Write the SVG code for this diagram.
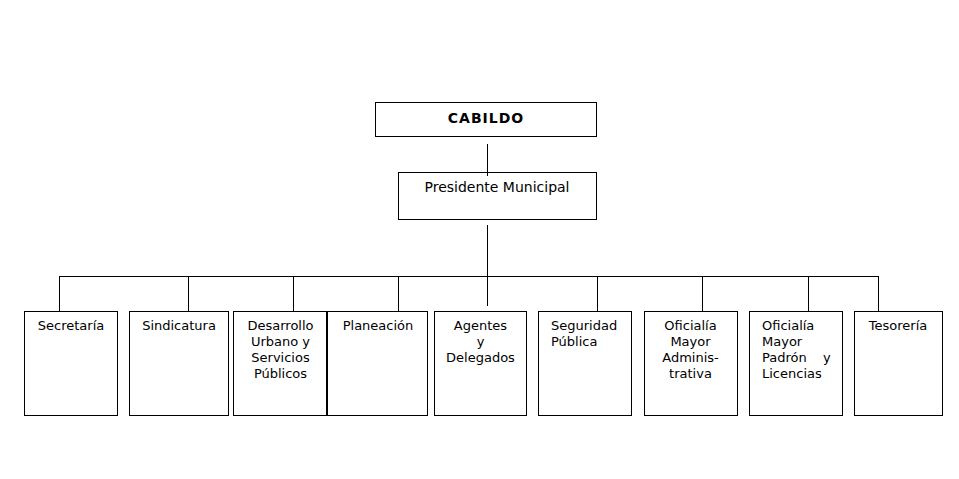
<svg xmlns="http://www.w3.org/2000/svg" width="959" height="479" viewBox="0 0 959 479">
<style>
rect{fill:#fff;stroke:#000;stroke-width:1}
line{stroke:#000;stroke-width:1}
text{font-family:"DejaVu Sans",Verdana,sans-serif;font-size:13px;fill:#000}
.c{text-anchor:middle}
.b{font-weight:bold;font-size:14px;letter-spacing:1px}
</style>
<rect width="959" height="479" style="fill:#fff;stroke:none"/>
<g id="connectors">
<line x1="487.5" y1="144" x2="487.5" y2="176"/>
<line x1="487.5" y1="225" x2="487.5" y2="306"/>
<line x1="59" y1="276.5" x2="879" y2="276.5"/>
<line x1="59.5" y1="276" x2="59.5" y2="311"/>
<line x1="188.5" y1="276" x2="188.5" y2="311"/>
<line x1="293.5" y1="276" x2="293.5" y2="311"/>
<line x1="398.5" y1="276" x2="398.5" y2="311"/>
<line x1="597.5" y1="276" x2="597.5" y2="311"/>
<line x1="702.5" y1="276" x2="702.5" y2="311"/>
<line x1="808.5" y1="276" x2="808.5" y2="311"/>
<line x1="878.5" y1="276" x2="878.5" y2="311"/>
</g>
<g id="cabildo">
<rect x="375.5" y="102.5" width="221" height="34"/>
<text class="c b" x="486" y="123">CABILDO</text>
</g>
<g id="presidente">
<rect x="398.5" y="172.5" width="198" height="47" style="fill:none"/>
<text class="c" x="497" y="192" style="font-size:14px">Presidente Municipal</text>
</g>
<g id="secretaria">
<rect x="24.5" y="311.5" width="93" height="104"/>
<text class="c" x="71" y="330">Secretaría</text>
</g>
<g id="sindicatura">
<rect x="129.5" y="311.5" width="99" height="104"/>
<text class="c" x="179" y="330">Sindicatura</text>
</g>
<g id="desarrollo">
<rect x="233.5" y="311.5" width="93" height="104"/>
<text class="c" x="280.5" y="330">Desarrollo<tspan x="280.5" dy="16">Urbano y</tspan><tspan x="280.5" dy="16">Servicios</tspan><tspan x="280.5" dy="16">Públicos</tspan></text>
</g>
<g id="planeacion">
<rect x="327.5" y="311.5" width="100" height="104"/>
<text class="c" x="378" y="330">Planeación</text>
</g>
<g id="agentes">
<rect x="434.5" y="311.5" width="92" height="104"/>
<text class="c" x="480.5" y="330">Agentes<tspan x="480.5" dy="16">y</tspan><tspan x="480.5" dy="16">Delegados</tspan></text>
</g>
<g id="seguridad">
<rect x="538.5" y="311.5" width="93" height="104"/>
<text x="551" y="330">Seguridad<tspan x="551" dy="16">Pública</tspan></text>
</g>
<g id="oficialia-adm">
<rect x="644.5" y="311.5" width="93" height="104"/>
<text class="c" x="690.5" y="330">Oficialía<tspan x="690.5" dy="16">Mayor</tspan><tspan x="690.5" dy="16">Adminis-</tspan><tspan x="690.5" dy="16">trativa</tspan></text>
</g>
<g id="oficialia-padron">
<rect x="749.5" y="311.5" width="93" height="104"/>
<text x="762" y="330">Oficialía<tspan x="762" dy="16">Mayor</tspan><tspan x="762" dy="16">Padrón</tspan><tspan x="823" dy="0">y</tspan><tspan x="762" dy="16">Licencias</tspan></text>
</g>
<g id="tesoreria">
<rect x="854.5" y="311.5" width="88" height="104"/>
<text class="c" x="898" y="330">Tesorería</text>
</g>
</svg>
